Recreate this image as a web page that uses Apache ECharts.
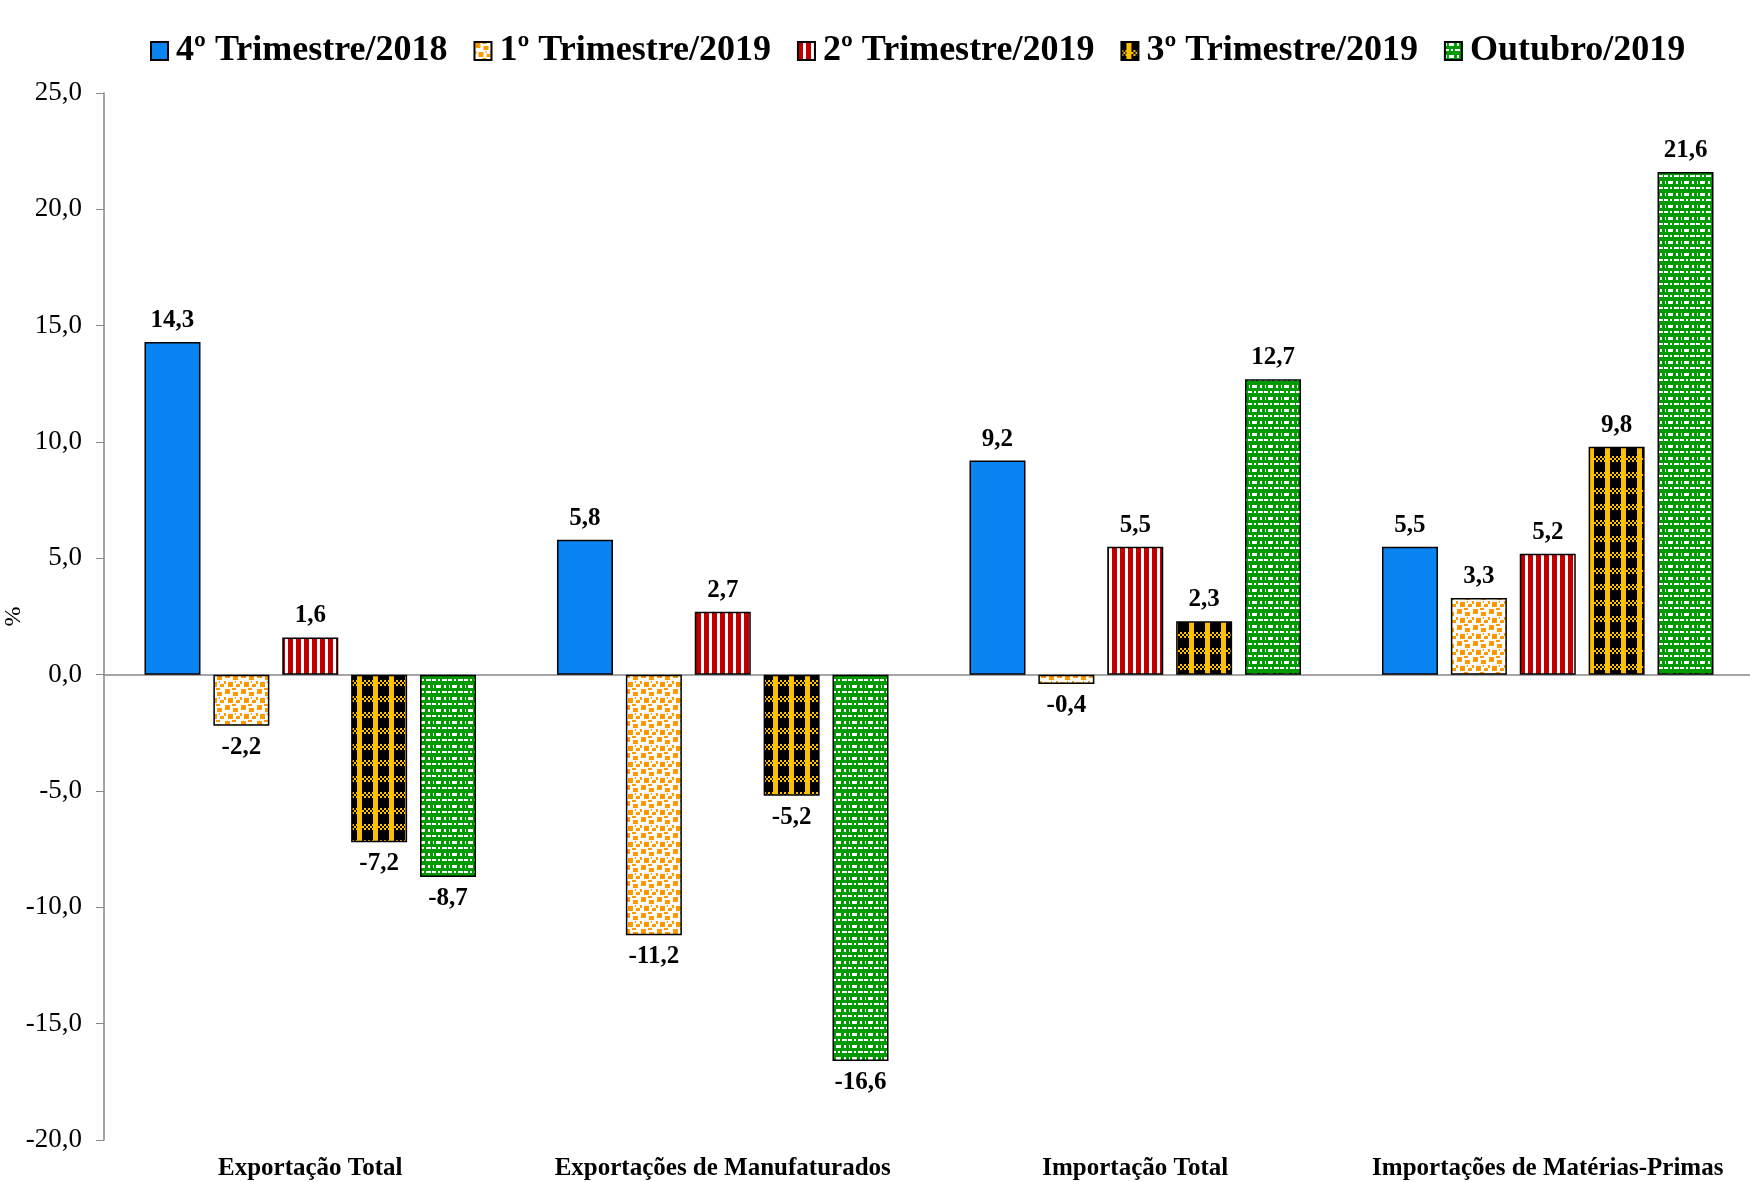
<!DOCTYPE html>
<html>
<head>
<meta charset="utf-8">
<title>Comércio exterior</title>
<script src="https://cdn.jsdelivr.net/npm/echarts@6/dist/echarts.min.js"></script>
<style>
  html, body { margin: 0; padding: 0; background: #fff; }
  #main { width: 1750px; height: 1182px; }
</style>
</head>
<body>
<div id="main"></div>
<script>
// dados
var categorias = ['Exportação Total', 'Exportações de Manufaturados', 'Importação Total', 'Importações de Matérias-Primas'];
var nomesSeries = ['4º Trimestre/2018', '1º Trimestre/2019', '2º Trimestre/2019', '3º Trimestre/2019', 'Outubro/2019'];
var tri4_2018 = [14.3, 5.8, 9.2, 5.5];
var tri1_2019 = [-2.2, -11.2, -0.4, 3.3];
var tri2_2019 = [1.6, 2.7, 5.5, 5.2];
var tri3_2019 = [-7.2, -5.2, 2.3, 9.8];
var out_2019 = [-8.7, -16.6, 12.7, 21.6];
var valoresSeries = [tri4_2018, tri1_2019, tri2_2019, tri3_2019, out_2019];

var FONTE = '"Liberation Serif", "DejaVu Serif", serif';

// padrões de preenchimento (tipo Excel)
function padrao(w, h, desenha) {
    var c = document.createElement('canvas');
    c.width = w; c.height = h;
    var ctx = c.getContext('2d');
    desenha(ctx);
    return { image: c, repeat: 'repeat' };
}
var pLaranja = padrao(16, 16, function (ctx) {
    ctx.fillStyle = '#fff'; ctx.fillRect(0, 0, 16, 16);
    ctx.fillStyle = '#ff9900';
    ctx.fillRect(1, 1, 5, 5);
    ctx.fillRect(9, 4, 5, 4);
    ctx.fillRect(4, 10, 5, 5);
    ctx.fillRect(12, 12, 4, 3);
    ctx.fillRect(8, 0, 4, 2);
    ctx.fillRect(0, 9, 2, 3);
    ctx.fillRect(11, 9, 1, 2);
});
var pVermelho = padrao(8, 4, function (ctx) {
    ctx.fillStyle = '#fff'; ctx.fillRect(0, 0, 8, 4);
    ctx.fillStyle = '#c00000'; ctx.fillRect(0, 0, 5, 4);
});
var pXadrez = padrao(16, 16, function (ctx) {
    ctx.fillStyle = '#000'; ctx.fillRect(0, 0, 16, 16);
    ctx.fillStyle = '#ffc000';
    ctx.fillRect(5, 0, 5, 16);
    for (var x = 0; x < 16; x += 4) {
        ctx.fillRect(x, 8, 2, 2);
        ctx.fillRect(x + 2, 10, 2, 2);
        ctx.fillRect(x, 12, 2, 2);
    }
});
var pVerde = padrao(16, 12, function (ctx) {
    ctx.fillStyle = '#009900'; ctx.fillRect(0, 0, 16, 12);
    ctx.fillStyle = '#fff';
    ctx.fillRect(1, 1, 1, 3);
    ctx.fillRect(4, 1, 5, 3);
    ctx.fillRect(12, 1, 2, 3);
    ctx.fillRect(0, 7, 4, 2);
    ctx.fillRect(6, 7, 2, 2);
    ctx.fillRect(10, 7, 5, 2);
});
var preenchimentos = ['#0a84f0', pLaranja, pVermelho, pXadrez, pVerde];

function fmt(v) { return v.toFixed(1).replace('.', ','); }

var series = nomesSeries.map(function (nome, i) {
    return {
        name: nome,
        type: 'bar',
        xAxisIndex: 0,
        barWidth: 56,
        barGap: '23%',
        itemStyle: { color: preenchimentos[i], borderColor: '#000', borderWidth: 1.5 },
        label: {
            show: true,
            distance: 9,
            fontFamily: FONTE, fontWeight: 'bold', fontSize: 25, color: '#000',
            formatter: function (p) { return fmt(p.value); }
        },
        data: valoresSeries[i].map(function (v) {
            return { value: v, label: { position: v < 0 ? 'bottom' : 'top' } };
        })
    };
});

var grafico = echarts.init(document.getElementById('main'));
var opcoes = {
    animation: false,
    backgroundColor: '#fff',
    legend: {
        top: 28, left: 145,
        icon: 'rect',
        itemWidth: 17, itemHeight: 18, itemGap: 26,
        textStyle: { fontFamily: FONTE, fontWeight: 'bold', fontSize: 36, color: '#000', padding: [0, 0, 0, 3] },
        data: nomesSeries
    },
    grid: { left: 104, right: -4, top: 93, bottom: 42, outerBoundsMode: 'none', containLabel: false },
    xAxis: [{
        type: 'category', data: categorias, position: 'bottom',
        axisLine: { show: false, onZero: false }, axisTick: { show: false },
        axisLabel: { fontFamily: FONTE, fontWeight: 'bold', fontSize: 25, color: '#000', margin: 16, interval: 0 }
    }, {
        type: 'category', data: categorias,
        axisLine: { show: true, onZero: true, lineStyle: { color: '#888', width: 1.5 } },
        axisTick: { show: false }, axisLabel: { show: false }
    }],
    yAxis: {
        type: 'value', min: -20, max: 25, interval: 5,
        name: '%', nameLocation: 'middle', nameGap: 78, nameRotate: 90,
        nameMoveOverlap: false,
        nameTextStyle: { fontFamily: FONTE, fontSize: 24, color: '#000' },
        axisLine: { show: true, lineStyle: { color: '#888', width: 1.5 } },
        axisTick: { show: true, inside: false, length: 8, lineStyle: { color: '#888' } },
        splitLine: { show: false },
        axisLabel: { fontFamily: FONTE, fontSize: 27, color: '#000', margin: 22, formatter: function (v) { return fmt(v); } }
    },
    series: series
};
grafico.setOption(opcoes);
</script>
</body>
</html>
